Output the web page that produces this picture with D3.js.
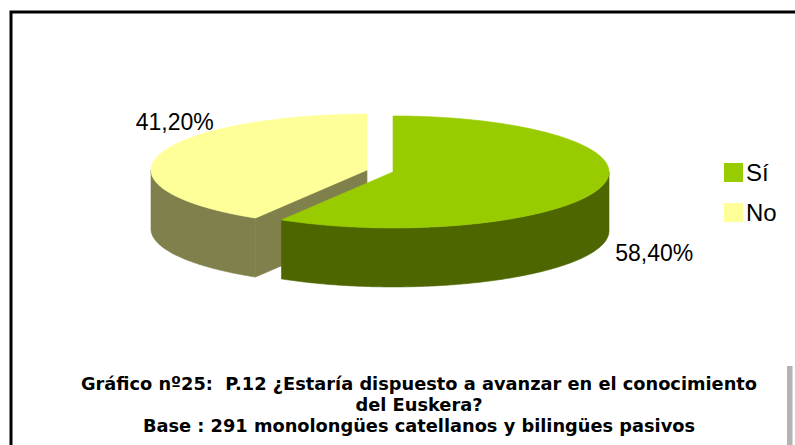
<!DOCTYPE html>
<html>
<head>
<meta charset="utf-8">
<script src="https://cdn.jsdelivr.net/npm/d3@7"></script>
<style>
  html, body { margin: 0; padding: 0; background: #fff; }
  svg { display: block; }
  .caption text { white-space: pre; }
</style>
</head>
<body>
<svg id="chart" width="795" height="445"></svg>
<script>
// Answers to P.12
const categories = ["Sí", "No"];
const values = [58.4, 41.2];
const valueLabels = ["58,40%", "41,20%"];
const topColors = ["#99CC00", "#FFFF99"];
const sideColors = ["#4D6600", "#80804C"];
const titleLines = [
  "Gráfico nº25:  P.12 ¿Estaría dispuesto a avanzar en el conocimiento",
  "del Euskera?",
  "Base : 291 monolongües catellanos y bilingües pasivos"
];

const svg = d3.select("#chart");

// outer frame (runs off the right and bottom edges)
svg.append("rect")
  .attr("x", 11).attr("y", 12).attr("width", 820).attr("height", 460)
  .attr("fill", "none").attr("stroke", "#000").attr("stroke-width", 3);

// grey strip at the lower right
svg.append("rect")
  .attr("x", 787).attr("y", 366).attr("width", 5.5).attr("height", 90)
  .attr("fill", "#B3B3B3");

// 3D pie geometry
const cx = 380, cy = 171;      // shared centre before explosion
const rx = 216, ry = 56;       // ellipse radii of the top face
const depth = 59;              // height of the pie's side
const explode = 13.5;          // offset of each slice along its mid angle

const pie = d3.pie().sort(null).value(d => d)
  .startAngle(0).endAngle(2 * Math.PI);
const arcs = pie(values);

// angle 0 = back (top of screen), increasing clockwise
const pt = (c, a, r = 1) => [c[0] + rx * r * Math.sin(a), c[1] - ry * r * Math.cos(a)];
const down = p => [p[0], p[1] + depth];

function arcPoints(c, a0, a1) {
  const n = Math.max(2, Math.ceil(Math.abs(a1 - a0) / 0.01));
  return d3.range(n + 1).map(i => pt(c, a0 + (a1 - a0) * i / n));
}

const line = d3.line();

const slices = arcs.map((d, i) => {
  const mid = (d.startAngle + d.endAngle) / 2;
  const c = [cx + explode * Math.sin(mid), cy - explode * (ry / rx) * Math.cos(mid)];
  return { d, i, mid, c };
});

// back-to-front painting order
const order = slices.slice().sort((a, b) => -Math.cos(a.mid) - -Math.cos(b.mid));

const g = svg.append("g");

order.forEach(s => {
  const { d, i, c } = s;
  const a0 = d.startAngle, a1 = d.endAngle;
  const side = sideColors[i];

  // curved outer wall, only the part facing the viewer
  const lo = Math.max(a0, Math.PI / 2), hi = Math.min(a1, 3 * Math.PI / 2);
  if (hi > lo) {
    const topArc = arcPoints(c, lo, hi);
    const poly = topArc.concat(topArc.slice().reverse().map(down));
    g.append("path").attr("d", line(poly) + "Z").attr("fill", side)
      .attr("stroke", side).attr("stroke-width", 0.6);
  }

  // radial cut faces that face the viewer
  [[a0, a0 - Math.PI / 2], [a1, a1 + Math.PI / 2]].forEach(([a, n]) => {
    if (Math.cos(n) < -1e-6) {
      const e = pt(c, a);
      const quad = [c, e, down(e), down(c)];
      g.append("path").attr("d", line(quad) + "Z").attr("fill", side)
        .attr("stroke", side).attr("stroke-width", 0.6);
    }
  });

  // top face
  const top = [c].concat(arcPoints(c, a0, a1));
  g.append("path").attr("d", line(top) + "Z").attr("fill", topColors[i])
    .attr("stroke", topColors[i]).attr("stroke-width", 0.6);
});

// value labels next to each slice
const labelFont = "'Liberation Sans', Arial, sans-serif";
slices.forEach(s => {
  const p = pt(s.c, s.mid, 1.02);
  const right = Math.sin(s.mid) > 0;
  const front = -Math.cos(s.mid) > 0;
  svg.append("text")
    .attr("x", right ? p[0] + 10 : p[0] + 59)
    .attr("y", front ? p[1] + depth + 15 : p[1] - 25)
    .attr("text-anchor", right ? "start" : "end")
    .attr("font-family", labelFont).attr("font-size", 23)
    .attr("fill", "#000")
    .text(valueLabels[s.i]);
});

// legend
const legend = svg.append("g").attr("transform", "translate(724,163)");
categories.forEach((name, i) => {
  const row = legend.append("g").attr("transform", `translate(0,${i * 40})`);
  row.append("rect").attr("width", 19).attr("height", 19).attr("fill", topColors[i]);
  row.append("text").attr("x", 22).attr("y", 18)
    .attr("font-family", labelFont).attr("font-size", 24).attr("fill", "#000")
    .text(name);
});

// caption
svg.append("g").attr("class", "caption").selectAll("text").data(titleLines).join("text")
  .attr("x", 419).attr("y", (d, i) => 390 + i * 21)
  .attr("text-anchor", "middle")
  .attr("font-family", "Verdana, 'DejaVu Sans', sans-serif")
  .attr("font-weight", "bold").attr("font-size", 17.8).attr("fill", "#000")
  .text(d => d);
</script>
</body>
</html>
